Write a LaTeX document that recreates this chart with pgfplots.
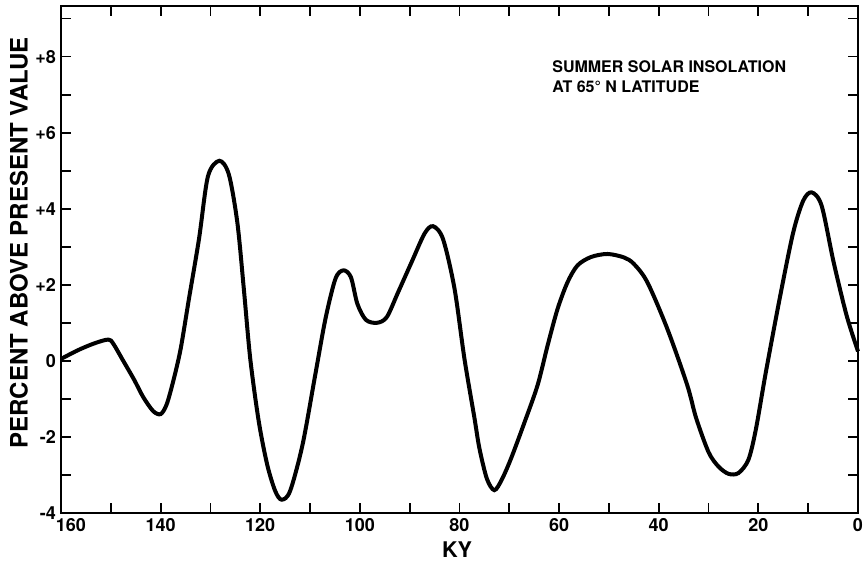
\documentclass[border=0pt]{standalone}
\usepackage{fontspec}
\setmainfont{TeX Gyre Heros}
\usepackage{pgfplots}
\pgfplotsset{compat=1.18}
\begin{document}
\begin{tikzpicture}
\begin{axis}[
  scale only axis,
  width=398.5pt, height=253.5pt,
  x dir=reverse,
  xmin=0, xmax=160, ymin=-4, ymax=9.33,
  xtick={140,120,100,80,60,40,20,0},
  xticklabels={140,120,100,80,60,40,20,0},
  extra x ticks={160},
  extra x tick labels={160},
  extra x tick style={xticklabel style={xshift=5pt}},
  minor xtick={150,130,110,90,70,50,30,10},
  ytick={-4,-2,0,2,4,6,8},
  yticklabels={-4,-2,0,+2,+4,+6,+8},
  minor ytick={-3,-1,1,3,5,7,9},
  tick align=inside,
  major tick length=5pt, minor tick length=5pt,
  every tick/.style={black, line width=0.9pt},
  axis line style={line width=1.2pt},
  ticklabel style={font=\bfseries\fontsize{9}{10}\selectfont},
  xticklabel style={yshift=1pt},
  yticklabel style={xshift=1pt},
  xlabel={KY},
  ylabel={PERCENT ABOVE PRESENT VALUE},
  every axis x label/.style={at={(axis description cs:0.497,-0.073)}, anchor=center, font=\bfseries\fontsize{10.8}{12}\selectfont},
  every axis y label/.style={at={(axis description cs:-0.053,0.533)}, rotate=90, anchor=center, font=\bfseries\fontsize{12}{13}\selectfont},
  clip=false,
]
\addplot[black, line width=2pt, smooth, tension=0.5] coordinates {
(160,0.05) (156.6,0.28) (153.3,0.46) (150.5,0.56) (149.5,0.45) (147.5,0.0)
(145.3,-0.5) (143.5,-0.95) (141.5,-1.32) (140,-1.4) (138.8,-1.15) (137.5,-0.55)
(136,0.3) (134.3,1.64) (132.3,3.2) (130.5,4.85) (128.2,5.26) (126.3,4.9)
(124.6,3.64) (123.3,1.9) (122,0.05) (120.3,-1.59) (118.6,-2.73) (117,-3.42)
(115.7,-3.65) (114,-3.42) (111.5,-2.2) (109,-0.4) (106.9,1.11) (104.9,2.16)
(103.3,2.38) (101.8,2.2) (100.5,1.5) (98.8,1.08) (96.6,1.0) (94.6,1.15)
(92.3,1.81) (89.6,2.6) (87,3.35) (85.3,3.54) (83.3,3.2) (81,1.9) (79,0.05)
(77,-1.5) (76,-2.3) (74.5,-3.1) (73,-3.4) (71.5,-3.12) (69.6,-2.55) (66.9,-1.6)
(64.3,-0.63) (62.3,0.41) (60.3,1.37) (58.3,2.07) (56.3,2.51) (53.6,2.73)
(50.3,2.81) (47,2.72) (45,2.55) (42.3,2.07)
(38.3,0.85) (34.3,-0.63) (32.5,-1.5) (30,-2.4) (28,-2.78) (26,-2.97) (24,-2.95)
(22,-2.6) (20.5,-1.8) (18.5,-0.3) (15.6,1.72) (13,3.38) (11,4.21) (9.3,4.43)
(7.3,4.08) (4.9,2.6) (2.3,1.2) (0,0.25)
};
\node[anchor=north west, align=left, inner sep=0pt,
  font=\bfseries\fontsize{8}{10}\selectfont]
  at (axis description cs:0.616,0.893)
  {SUMMER SOLAR INSOLATION\\AT 65° N LATITUDE};
\end{axis}
\pgfresetboundingbox
\path[use as bounding box]
  ([shift={(-30.5pt,-26.5pt)}]current axis.south west)
  rectangle ([shift={(4.5pt,3pt)}]current axis.north east);
\end{tikzpicture}
\end{document}
